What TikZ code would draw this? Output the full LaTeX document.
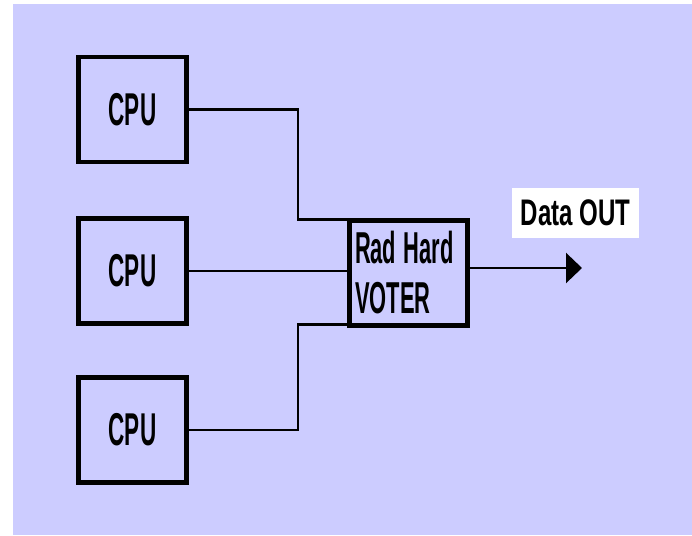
\documentclass[tikz,border=0pt]{standalone}
\usepackage{fontspec}
\setmainfont{Liberation Sans}
\usetikzlibrary{arrows.meta}
\definecolor{panel}{HTML}{CCCCFF}
\tikzset{
  cpubox/.style={draw, line width=4.5pt, minimum width=108pt, minimum height=105pt,
    inner sep=0pt, font=\bfseries\fontsize{46}{50}\selectfont},
  voterbox/.style={draw, line width=4.5pt, minimum width=118pt, minimum height=105pt,
    inner xsep=5.5pt, inner ysep=0pt, text width=107pt, align=left,
    font=\bfseries\fontsize{44.7}{50}\selectfont},
  wire/.style={line width=2.5pt},
  outlabel/.style={fill=white, minimum width=127pt, minimum height=50pt, inner sep=0pt,
    font=\bfseries\fontsize{37}{40}\selectfont}
}
\newcommand{\narrow}[2]{\scalebox{#1}[1]{#2}}
\begin{document}
\begin{tikzpicture}[x=1pt,y=-1pt]
  \useasboundingbox (0,0) rectangle (692,535);
  \fill[panel] (13,4) rectangle (692,535);

  % processors
  \node[cpubox] (cpu1) at (132.5,109.5) {\narrow{0.49}{CPU}};
  \node[cpubox] (cpu2) at (132.5,271) {\narrow{0.49}{CPU}};
  \node[cpubox] (cpu3) at (132.5,430) {\narrow{0.49}{CPU}};

  % voter
  \node[voterbox] (voter) at (408.5,273) {\narrow{0.49}{Rad Hard}\\\narrow{0.49}{VOTER}};

  % wiring into the voter
  \coordinate (j1) at (298,219.5);
  \coordinate (j3) at (298,324.5);
  \draw[wire] (cpu1.east) -| (j1) -- (j1 -| voter.west);
  \draw[wire] (cpu2.east) -- (cpu2.east -| voter.west);
  \draw[wire] (cpu3.east) -| (j3) -- (j3 -| voter.west);

  % output
  \coordinate (out) at (582,268);
  \draw[wire, -{Triangle[length=16pt,width=30pt]}] (voter.east |- out) -- (out);
  \node[outlabel] (dout) at (575.5,213) {\raisebox{-3pt}{\narrow{0.65}{Data OUT}}};
\end{tikzpicture}
\end{document}
